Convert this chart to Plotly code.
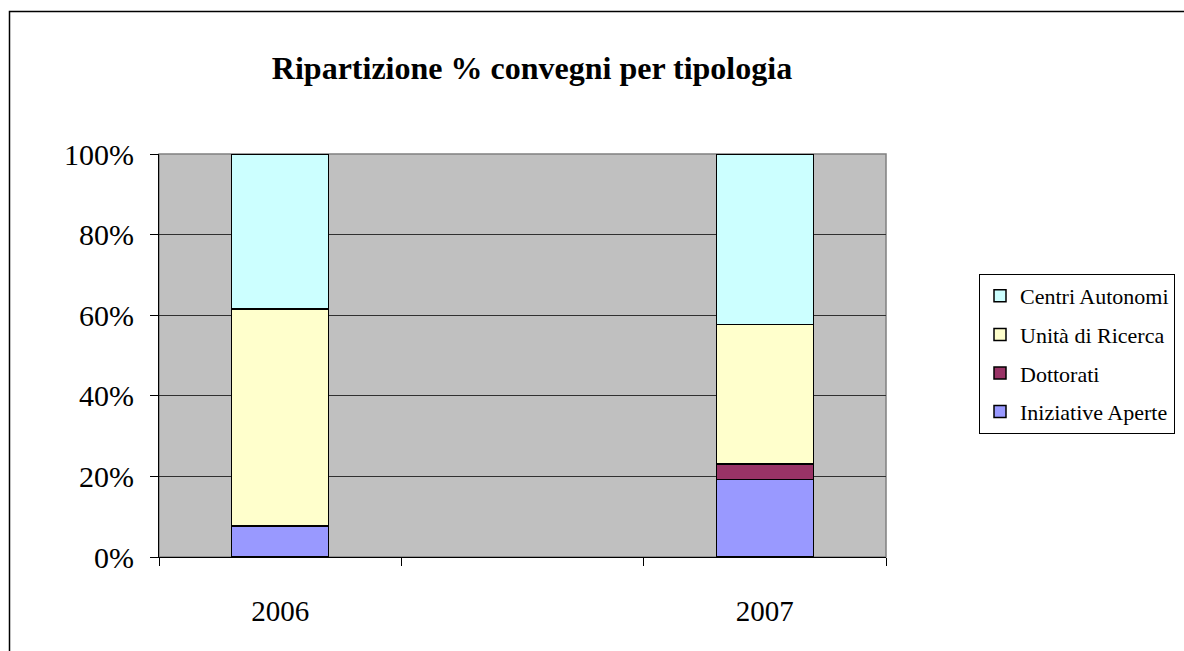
import plotly.graph_objects as go

categories = ["2006", " ", "2007"]
series_names = ["Iniziative Aperte", "Dottorati", "Unità di Ricerca", "Centri Autonomi"]
iniziative_aperte = [7.69, None, 19.23]
dottorati = [0.0, None, 3.85]
unita_di_ricerca = [53.85, None, 34.62]
centri_autonomi = [38.46, None, 42.30]
colors = ["#9999FF", "#993366", "#FFFFCC", "#CCFFFF"]
legend_ranks = [4, 3, 2, 1]
y_ticks = [0, 20, 40, 60, 80, 100]
y_tick_labels = ["0%", "20%", "40%", "60%", "80%", "100%"]

W, H = 1184, 651
L, R, T, B = 159, 886, 154, 557

def px_x(p):
    return (p - L) / (R - L)

def px_y(p):
    return (B - p) / (B - T)

serif = "Liberation Serif"

fig = go.Figure()
for name, vals, col, rk in zip(series_names,
                               [iniziative_aperte, dottorati, unita_di_ricerca, centri_autonomi],
                               colors, legend_ranks):
    fig.add_trace(go.Bar(
        x=categories, y=vals, name=name, legendgroup=name, legendrank=rk,
        width=0.4,
        marker=dict(color=col, line=dict(color="black", width=1.5)),
    ))

fig.update_layout(
    width=W, height=H,
    barmode="stack",
    paper_bgcolor="white",
    plot_bgcolor="#C0C0C0",
    margin=dict(l=L, r=W - R, t=T, b=H - B, autoexpand=False),
    title=dict(text="<b>Ripartizione % convegni per tipologia</b>",
               font=dict(family=serif, size=32, color="black"),
               x=px_x(532), xref="paper", xanchor="center",
               y=1 - 68 / H, yref="container", yanchor="middle"),
    font=dict(family=serif, color="black"),
    showlegend=True,
    legend=dict(
        x=px_x(979), y=px_y(274), xanchor="left", yanchor="top",
        xref="paper", yref="paper",
        bgcolor="white", bordercolor="black", borderwidth=1,
        font=dict(family=serif, size=22, color="black"),
        traceorder="grouped", tracegroupgap=7,
        itemwidth=30,
    ),
    xaxis=dict(
        type="category", categoryorder="array", categoryarray=categories,
        range=[-0.5, 2.5],
        tickson="boundaries", ticks="outside", ticklen=8, tickcolor="black",
        showgrid=False, showline=True, linecolor="black", linewidth=1,
        tickfont=dict(family=serif, size=29, color="black"),
        ticklabelstandoff=28,
        zeroline=False, fixedrange=True,
    ),
    yaxis=dict(
        range=[0, 100], tickvals=y_ticks, ticktext=y_tick_labels,
        ticks="outside", ticklen=8, tickcolor="black",
        showgrid=True, gridcolor="#303030", gridwidth=1,
        showline=True, linecolor="black", linewidth=1,
        tickfont=dict(family=serif, size=30, color="black"),
        ticklabelstandoff=10,
        zeroline=False, fixedrange=True,
    ),
    shapes=[
        dict(type="rect", xref="paper", yref="paper",
             x0=px_x(9.5), x1=px_x(1220), y0=px_y(720), y1=px_y(11.5),
             line=dict(color="black", width=1.5), fillcolor="rgba(0,0,0,0)", layer="below"),
        dict(type="rect", xref="paper", yref="paper",
             x0=0, x1=1, y0=0, y1=1,
             line=dict(color="#808080", width=1.5), fillcolor="rgba(0,0,0,0)", layer="below"),
    ],
)

fig.write_html(
    "out.html",
    config={"displayModeBar": False},
    post_script="document.body.style.margin='0';document.body.style.overflow='hidden';",
)
